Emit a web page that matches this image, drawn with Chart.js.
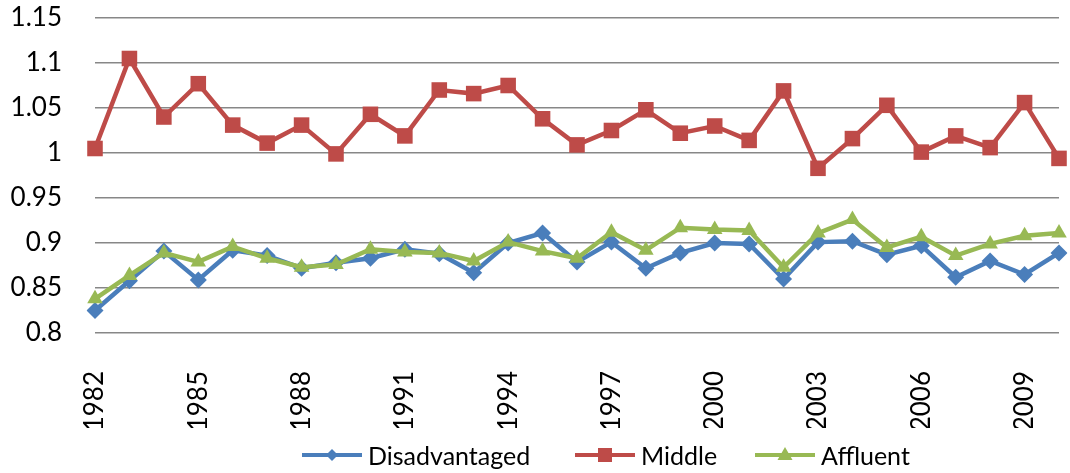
<!DOCTYPE html>
<html>
<head>
<meta charset="utf-8">
<script src="https://cdn.jsdelivr.net/npm/chart.js@4.4.1/dist/chart.umd.min.js"></script>
<style>
    body { margin: 0; background: #fff; }
    #wrap { position: relative; width: 1070px; height: 473px; }
    #legend { position: absolute; left: 0; top: 439px; width: 1070px; height: 32px; font-family: Lato, "Liberation Sans", sans-serif; font-size: 25px; color: #000; }
    .item { position: absolute; top: 0; height: 32px; display: flex; align-items: center; white-space: nowrap; }
    .item canvas { margin-right: 6px; }
</style>
</head>
<body>
<div id="wrap">
    <canvas id="lineChart" width="1070" height="473"></canvas>
    <div id="legend"></div>
</div>
<script>
const years = ['1982', '1983', '1984', '1985', '1986', '1987', '1988', '1989', '1990', '1991',
    '1992', '1993', '1994', '1995', '1996', '1997', '1998', '1999', '2000', '2001',
    '2002', '2003', '2004', '2005', '2006', '2007', '2008', '2009', '2010'];

const disadvantaged = [0.825, 0.858, 0.891, 0.859, 0.892, 0.886, 0.872, 0.878, 0.883, 0.893,
    0.888, 0.867, 0.900, 0.911, 0.879, 0.901, 0.872, 0.889, 0.900, 0.899,
    0.860, 0.901, 0.902, 0.887, 0.897, 0.862, 0.880, 0.865, 0.889];

const middle = [1.005, 1.105, 1.040, 1.077, 1.031, 1.011, 1.031, 0.999, 1.043, 1.019,
    1.070, 1.066, 1.075, 1.038, 1.009, 1.025, 1.048, 1.022, 1.030, 1.014,
    1.069, 0.983, 1.016, 1.053, 1.001, 1.019, 1.006, 1.056, 0.994];

const affluent = [0.838, 0.864, 0.889, 0.879, 0.896, 0.883, 0.873, 0.876, 0.893, 0.890,
    0.889, 0.880, 0.901, 0.891, 0.883, 0.912, 0.892, 0.917, 0.915, 0.914,
    0.873, 0.911, 0.926, 0.895, 0.907, 0.886, 0.899, 0.908, 0.911];

const yTicks = [0.8, 0.85, 0.9, 0.95, 1, 1.05, 1.1, 1.15];

const fontFamily = 'Lato, "Liberation Sans", sans-serif';

const series = [
    { label: 'Disadvantaged', data: disadvantaged, color: '#4A7EBB', style: 'rectRot', radius: 8.5, order: 3, legendX: 302 },
    { label: 'Middle', data: middle, color: '#BE4B48', style: 'rect', radius: 11, order: 2, legendX: 575 },
    { label: 'Affluent', data: affluent, color: '#98B954', style: 'triangle', radius: 9, order: 1, legendX: 755 }
];

// drop the extra padding chart.js adds for the tick labels, layout.padding does it instead
function noPadding(scale) {
    scale.paddingTop = 0;
    scale.paddingBottom = 0;
    scale.paddingLeft = 0;
    scale.paddingRight = 0;
}

const ctx = document.getElementById('lineChart').getContext('2d');

const lineChart = new Chart(ctx, {
    type: 'line',
    data: {
        labels: years,
        datasets: series.map(s => ({
            label: s.label,
            data: s.data,
            borderColor: s.color,
            backgroundColor: s.color,
            borderWidth: 4.5,
            pointStyle: s.style,
            pointRadius: s.radius,
            pointBorderWidth: 0,
            pointBackgroundColor: s.color,
            tension: 0,
            fill: false,
            order: s.order
        }))
    },
    options: {
        responsive: false,
        animation: false,
        layout: {
            padding: { top: 18, right: 2, bottom: 45, left: 0 }
        },
        plugins: {
            legend: { display: false },
            tooltip: { enabled: false }
        },
        scales: {
            x: {
                offset: false,
                afterFit: function (scale) {
                    noPadding(scale);
                    scale.height = 95;
                },
                grid: { display: false, drawTicks: false },
                border: { display: false },
                ticks: {
                    autoSkip: false,
                    maxRotation: 90,
                    minRotation: 90,
                    padding: 38,
                    color: '#000',
                    font: { family: fontFamily, size: 26 },
                    callback: function (value, index) {
                        return index % 3 === 0 ? years[index] : '';
                    }
                }
            },
            y: {
                min: 0.8,
                max: 1.15,
                afterFit: function (scale) {
                    noPadding(scale);
                    scale.width = 95;
                },
                afterBuildTicks: function (scale) {
                    scale.ticks = yTicks.map(v => ({ value: v }));
                },
                grid: { color: '#878787', lineWidth: 1.6, drawTicks: false },
                border: { display: false },
                ticks: {
                    padding: 33,
                    color: '#000',
                    font: { family: fontFamily, size: 26 },
                    callback: function (value) {
                        return String(Math.round(value * 100) / 100);
                    }
                }
            }
        }
    }
});

// legend drawn as html, line with the marker in the middle
function drawSymbol(canvas, s) {
    const c = canvas.getContext('2d');
    const cx = canvas.width / 2;
    const cy = canvas.height / 2;
    c.strokeStyle = s.color;
    c.fillStyle = s.color;
    c.lineWidth = 4;
    c.beginPath();
    c.moveTo(0, cy);
    c.lineTo(canvas.width, cy);
    c.stroke();
    c.beginPath();
    if (s.style === 'rectRot') {
        c.moveTo(cx - 6, cy);
        c.lineTo(cx, cy - 6);
        c.lineTo(cx + 6, cy);
        c.lineTo(cx, cy + 6);
    } else if (s.style === 'rect') {
        c.rect(cx - 7, cy - 7, 14, 14);
    } else {
        c.moveTo(cx, cy - 8);
        c.lineTo(cx + 7.5, cy + 5);
        c.lineTo(cx - 7.5, cy + 5);
    }
    c.closePath();
    c.fill();
}

const legend = document.getElementById('legend');
series.forEach(s => {
    const item = document.createElement('div');
    item.className = 'item';
    item.style.left = s.legendX + 'px';
    const sym = document.createElement('canvas');
    sym.width = 60;
    sym.height = 24;
    drawSymbol(sym, s);
    const text = document.createElement('span');
    text.textContent = s.label;
    item.appendChild(sym);
    item.appendChild(text);
    legend.appendChild(item);
});
</script>
</body>
</html>
